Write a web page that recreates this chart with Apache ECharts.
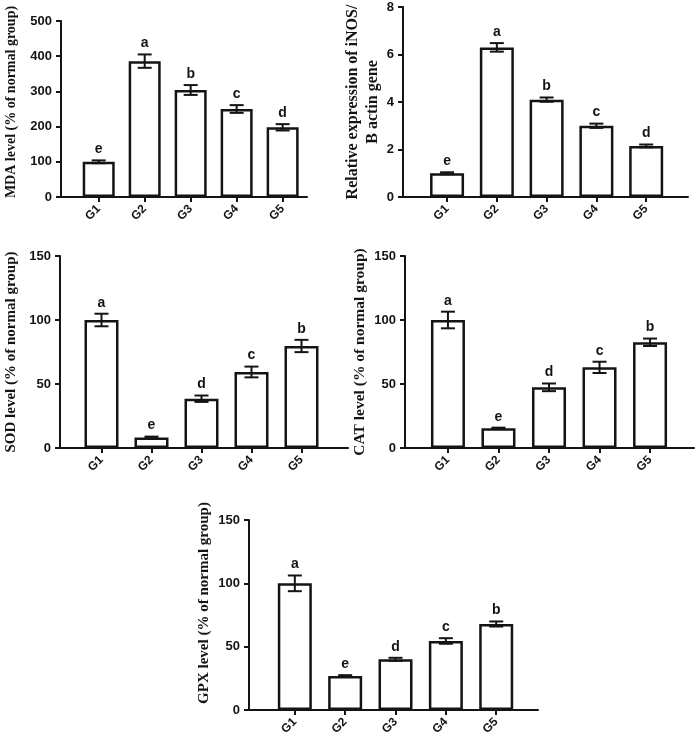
<!DOCTYPE html>
<html>
<head>
<meta charset="utf-8">
<script src="https://cdn.jsdelivr.net/npm/echarts@6/dist/echarts.min.js"></script>
<style>html,body{margin:0;padding:0;background:#fff}#c{width:699px;height:744px}</style>
</head>
<body>
<div id="c"></div>
<script>
// ---- data ----
const groups = ['G1', 'G2', 'G3', 'G4', 'G5'];
const groupPos = [1, 2, 3, 4, 5];

const mdaMean = [100, 386, 304, 250, 198];
const mdaErr = [4, 19, 14, 11, 9];
const mdaLetters = ['e', 'a', 'b', 'c', 'd'];

const inosMean = [1.0, 6.3, 4.1, 3.0, 2.15];
const inosErr = [0.04, 0.18, 0.09, 0.09, 0.06];
const inosLetters = ['e', 'a', 'b', 'c', 'd'];

const sodMean = [100, 8.3, 38.5, 59.4, 79.7];
const sodErr = [4.9, 0.6, 2.5, 4.2, 4.8];
const sodLetters = ['a', 'e', 'd', 'c', 'b'];

const catMean = [100, 15.4, 47.4, 63, 82.6];
const catErr = [6.5, 0.5, 3, 4.4, 2.9];
const catLetters = ['a', 'e', 'd', 'c', 'b'];

const gpxMean = [100, 26.8, 40, 54.5, 67.9];
const gpxErr = [6.2, 0.7, 1.2, 2.2, 2];
const gpxLetters = ['a', 'e', 'd', 'c', 'b'];

const mdaTitle = 'MDA level (% of normal group)';
const inosTitle = 'Relative expression of iNOS/\nB actin gene';
const sodTitle = 'SOD level (% of normal group)';
const catTitle = 'CAT level (% of normal group)';
const gpxTitle = 'GPX level (% of normal group)';

// ---- layout ----
const panels = [
  {mean: mdaMean, err: mdaErr, letters: mdaLetters, title: mdaTitle,
   grid: {left: 57, top: 21, width: 250, height: 176}, xmin: 0.18, xmax: 5.53, ymax: 500, yint: 100,
   nameGap: 40, nameSize: 14, namePad: [0, 0, 0, 14], barWidth: 32},
  {mean: inosMean, err: inosErr, letters: inosLetters, title: inosTitle,
   grid: {left: 403, top: 7, width: 285, height: 190}, xmin: 0.115, xmax: 5.84, ymax: 8, yint: 2,
   nameGap: 14, nameSize: 16, namePad: [0, 0, 0, 0], barWidth: 34},
  {mean: sodMean, err: sodErr, letters: sodLetters, title: sodTitle,
   grid: {left: 57, top: 256, width: 291, height: 192}, xmin: 0.17, xmax: 5.93, ymax: 150, yint: 50,
   nameGap: 39, nameSize: 15, namePad: [0, 0, 0, 0], barWidth: 34},
  {mean: catMean, err: catErr, letters: catLetters, title: catTitle,
   grid: {left: 405, top: 256, width: 289, height: 192}, xmin: 0.15, xmax: 5.87, ymax: 150, yint: 50,
   nameGap: 33, nameSize: 15.5, namePad: [0, 0, 0, 0], barWidth: 34},
  {mean: gpxMean, err: gpxErr, letters: gpxLetters, title: gpxTitle,
   grid: {left: 249, top: 520, width: 289, height: 190}, xmin: 0.09, xmax: 5.83, ymax: 150, yint: 50,
   nameGap: 35, nameSize: 15, namePad: [0, 0, 0, 24], barWidth: 34}
];

const INK = '#141414';
const SANS = '"Liberation Sans", Arial, sans-serif';
const SERIF = '"Liberation Serif", "Times New Roman", serif';

const option = {
  animation: false,
  backgroundColor: '#ffffff',
  grid: panels.map(p => Object.assign({containLabel: false}, p.grid)),
  xAxis: panels.map((p, i) => ({
    type: 'value', gridIndex: i, min: p.xmin, max: p.xmax,
    splitLine: {show: false},
    axisLine: {show: true, onZero: false, lineStyle: {color: INK, width: 2}},
    axisTick: {show: true, customValues: groupPos, length: 5, lineStyle: {color: INK, width: 2}},
    axisLabel: {show: true, customValues: groupPos, formatter: v => groups[Math.round(v) - 1],
      rotate: 45, margin: 10, fontSize: 12, fontWeight: 'bold', fontFamily: SANS, color: INK}
  })),
  yAxis: panels.map((p, i) => ({
    type: 'value', gridIndex: i, min: 0, max: p.ymax, interval: p.yint,
    name: p.title, nameLocation: 'middle', nameGap: p.nameGap, nameRotate: 90,
    nameTextStyle: {fontFamily: SERIF, fontWeight: 'bold', fontSize: p.nameSize, color: INK,
      lineHeight: 20, padding: p.namePad},
    splitLine: {show: false},
    axisLine: {show: true, onZero: false, lineStyle: {color: INK, width: 2}},
    axisTick: {show: true, length: 5, lineStyle: {color: INK, width: 2}},
    axisLabel: {margin: 9, fontSize: 13, fontWeight: 'bold', fontFamily: SANS, color: INK}
  })),
  series: []
};

panels.forEach((p, i) => {
  option.series.push({
    type: 'bar', xAxisIndex: i, yAxisIndex: i, barWidth: p.barWidth,
    data: p.mean.map((m, k) => [groupPos[k], m]),
    itemStyle: {color: '#ffffff', borderColor: INK, borderWidth: 2.5},
    z: 2
  });
  option.series.push({
    type: 'custom', xAxisIndex: i, yAxisIndex: i, z: 5,
    data: p.mean.map((m, k) => [groupPos[k], m, p.err[k]]),
    renderItem: function (params, api) {
      const x = api.value(0), m = api.value(1), e = api.value(2);
      const top = api.coord([x, m + e]);
      const bot = api.coord([x, m - e]);
      const cx = top[0], hw = 7;
      const st = {stroke: INK, lineWidth: 2};
      return {type: 'group', children: [
        {type: 'line', shape: {x1: cx, y1: top[1], x2: cx, y2: bot[1]}, style: st},
        {type: 'line', shape: {x1: cx - hw, y1: top[1], x2: cx + hw, y2: top[1]}, style: st},
        {type: 'line', shape: {x1: cx - hw, y1: bot[1], x2: cx + hw, y2: bot[1]}, style: st},
        {type: 'text', x: cx, y: top[1] - 4, style: {text: p.letters[params.dataIndex],
          fill: INK, font: 'bold 14px ' + SANS, textAlign: 'center', textVerticalAlign: 'bottom'}}
      ]};
    }
  });
});

const chart = echarts.init(document.getElementById('c'), null, {renderer: 'canvas'});
chart.setOption(option);
</script>
</body>
</html>
